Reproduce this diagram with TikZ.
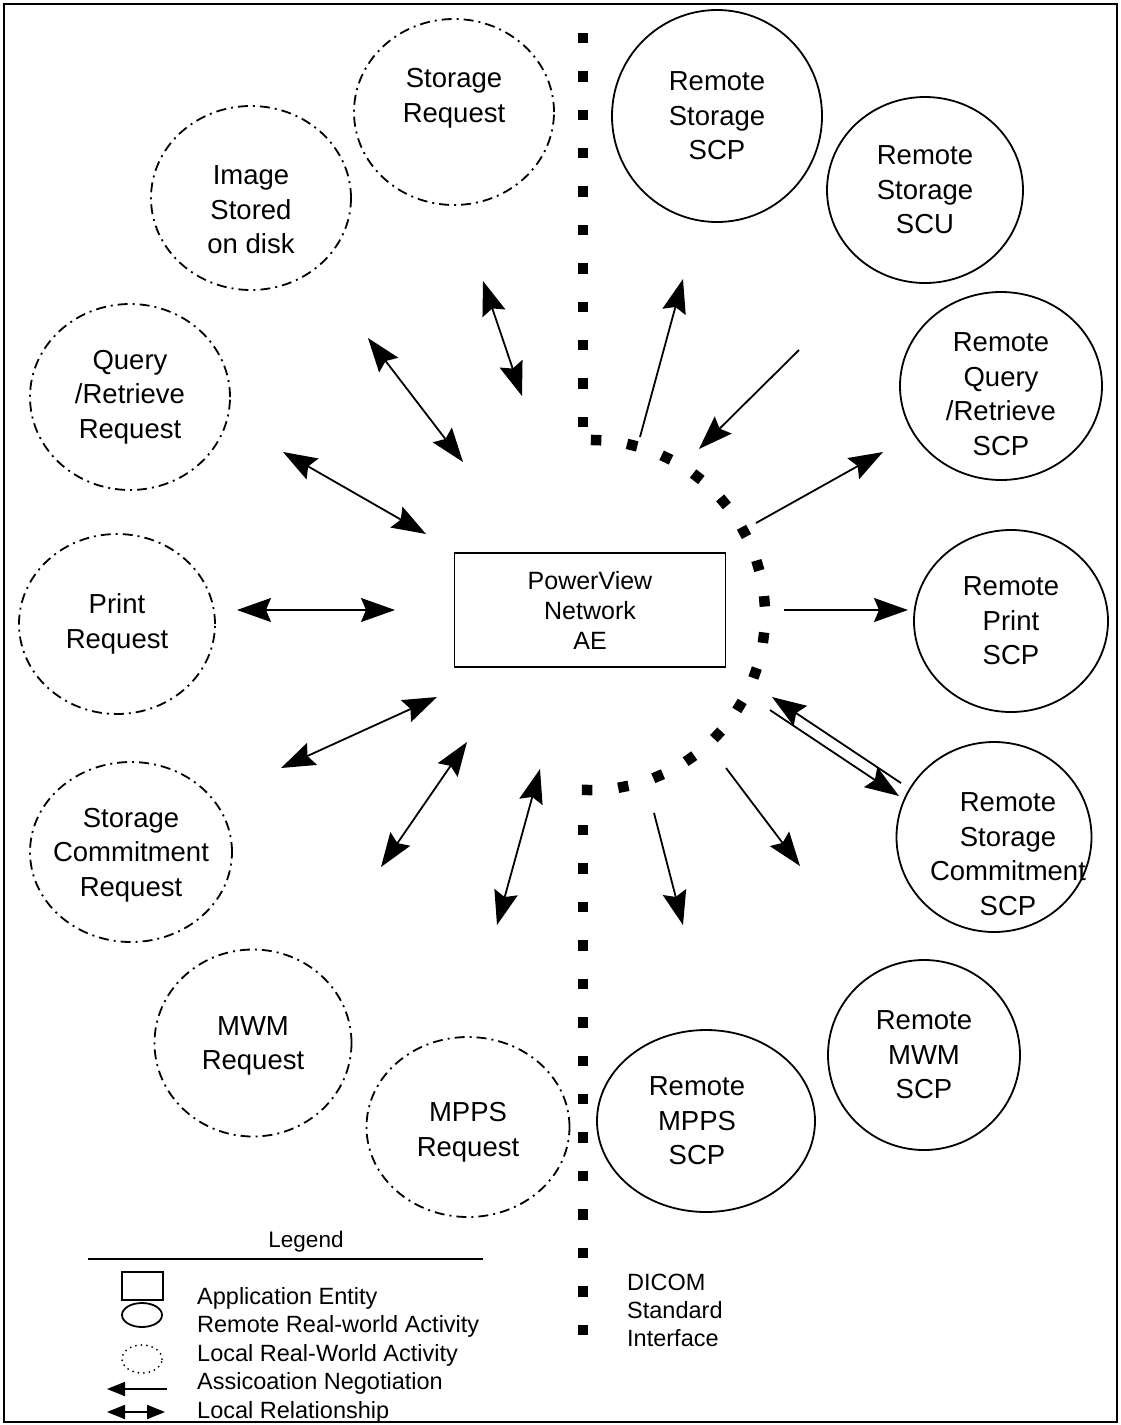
\documentclass[tikz,border=0pt]{standalone}
\usepackage{fontspec}
\setmainfont{Liberation Sans}
\usetikzlibrary{shapes.geometric,arrows.meta}

\begin{document}
\begin{tikzpicture}[x=1pt,y=-1pt,
  remote/.style={draw,ellipse,line width=1.8pt,inner sep=0pt},
  local/.style={draw,ellipse,line width=1.8pt,inner sep=0pt,dash pattern=on 10pt off 5pt on 2pt off 5pt},
  lbl/.style={align=center,inner sep=0pt,font=\fontsize{27.5}{34.5}\selectfont},
  small/.style={align=left,anchor=west,inner sep=0pt,font=\fontsize{23.5}{28.5}\selectfont},
  assoc/.style={line width=1.8pt,-{Stealth[length=34pt,width=24pt,inset=5pt]}},
  localrel/.style={line width=1.8pt,{Stealth[length=34pt,width=24pt,inset=5pt]}-{Stealth[length=34pt,width=24pt,inset=5pt]}},
  sq/.style={fill,minimum size=10.5pt,inner sep=0pt}]
\useasboundingbox (0,0) rectangle (1120,1425);
\draw[line width=1.8pt] (4,4) rectangle (1117,1422);

% local real-world activities
\node[local,minimum width=200pt,minimum height=186pt,label={[lbl,yshift=14pt]center:{Storage\\Request}}] (storreq) at (454,112) {};
\node[local,minimum width=200pt,minimum height=184pt,label={[lbl,yshift=-12pt]center:{Image\\Stored\\on disk}}] (imgdisk) at (251,198) {};
\node[local,minimum width=200pt,minimum height=186pt,label={[lbl]center:{Query\\/Retrieve\\Request}}] (qrreq) at (130,397) {};
\node[local,minimum width=196pt,minimum height=180pt,label={[lbl]center:{Print\\Request}}] (prreq) at (117,624) {};
\node[local,minimum width=202pt,minimum height=180pt,label={[lbl,yshift=-3pt]center:{Storage\\Commitment\\Request}}] (screq) at (131,852) {};
\node[local,minimum width=197pt,minimum height=187pt,label={[lbl,yshift=-3pt]center:{MWM\\Request}}] (mwmreq) at (253,1043) {};
\node[local,minimum width=203pt,minimum height=180pt,label={[lbl,yshift=-5pt]center:{MPPS\\Request}}] (mppsreq) at (468,1127) {};

% remote real-world activities
\node[remote,minimum width=210pt,minimum height=212pt,label={[lbl]center:{Remote\\Storage\\SCP}}] (rstorscp) at (717,116) {};
\node[remote,minimum width=196pt,minimum height=186pt,label={[lbl]center:{Remote\\Storage\\SCU}}] (rstorscu) at (925,190) {};
\node[remote,minimum width=202pt,minimum height=188pt,label={[lbl,yshift=-8pt]center:{Remote\\Query\\/Retrieve\\SCP}}] (rqrscp) at (1001,386) {};
\node[remote,minimum width=194pt,minimum height=182pt,label={[lbl]center:{Remote\\Print\\SCP}}] (rprscp) at (1011,621) {};
\node[remote,minimum width=195pt,minimum height=190pt,label={[lbl,xshift=14pt,yshift=-17pt]center:{Remote\\Storage\\Commitment\\SCP}}] (rscscp) at (994,837) {};
\node[remote,minimum width=192pt,minimum height=190pt,label={[lbl]center:{Remote\\MWM\\SCP}}] (rmwmscp) at (924,1055) {};
\node[remote,minimum width=218pt,minimum height=182pt,label={[lbl,xshift=-9pt]center:{Remote\\MPPS\\SCP}}] (rmppsscp) at (706,1121) {};

% application entity
\node[draw,line width=1.8pt,minimum width=271pt,minimum height=114pt,align=center,font=\fontsize{25}{30}\selectfont] (ae) at (590,610) {PowerView\\Network\\AE};

% DICOM interface
\foreach \i in {0,...,10} \node[sq] (bt\i) at (583,{38+38.4*\i}) {};
\foreach \i in {0,...,15} \node[sq,rotate={88-11.93*\i}] (ba\i) at ({590+175*cos(88-11.93*\i)},{615-175*sin(88-11.93*\i)}) {};
\foreach \i in {0,...,13} \node[sq] (bb\i) at (583,{830+38.46*\i}) {};
\node[small,font=\fontsize{23.5}{28}\selectfont] (dicom) at (627,1310) {DICOM\\Standard\\Interface};

% local relationships
\foreach \n/\a/\b in {sr/{483,281}/{522,396}, id/{368,338}/{463,462}, qr/{283,452}/{426,534},
    pr/{237,610}/{395,610}, sc/{281,768}/{437,697}, mw/{381,867}/{467,742}, mp/{497,925}/{540,769}} {
  \coordinate (\n1) at (\a);
  \coordinate (\n2) at (\b);
  \draw[localrel] (\n1) -- (\n2);
}

% association negotiation
\foreach \n/\a/\b in {rsp/{640,437}/{683,279}, rsu/{799,350}/{699,449}, rqr/{756,523}/{883,452},
    rpr/{784,610}/{908,610}, rca/{901,783}/{772,697}, rcb/{770,710}/{899,796},
    rmw/{726,768}/{800,866}, rmp/{654,813}/{683,925}} {
  \coordinate (\n1) at (\a);
  \coordinate (\n2) at (\b);
  \draw[assoc] (\n1) -- (\n2);
}

% legend
\node[font=\fontsize{22.5}{27}\selectfont] (leg) at (306,1242) {Legend};
\coordinate (lg1) at (88,1259);
\coordinate (lg2) at (483,1259);
\draw[line width=1.8pt] (lg1) -- (lg2);
\node[draw,line width=1.8pt,minimum width=41pt,minimum height=28pt,inner sep=0pt] (legae) at (142.5,1286) {};
\node[remote,minimum width=40pt,minimum height=24pt] (legrem) at (142,1315) {};
\node[draw,ellipse,line width=2pt,line cap=round,dash pattern=on 0pt off 5.5pt,minimum width=40pt,minimum height=28pt,inner sep=0pt] (legloc) at (142,1359) {};
\coordinate (la1) at (167,1389);
\coordinate (la2) at (107,1389);
\draw[line width=1.8pt,-{Triangle[length=18pt,width=14pt]}] (la1) -- (la2);
\coordinate (ll1) at (107,1412);
\coordinate (ll2) at (165,1412);
\draw[line width=1.8pt,{Triangle[length=18pt,width=14pt]}-{Triangle[length=18pt,width=14pt]}] (ll1) -- (ll2);
\node[small] (legtxt) at (197,1355) {Application Entity\\Remote Real-world Activity\\Local Real-World Activity\\Assicoation Negotiation\\Local Relationship};
\end{tikzpicture}
\end{document}
